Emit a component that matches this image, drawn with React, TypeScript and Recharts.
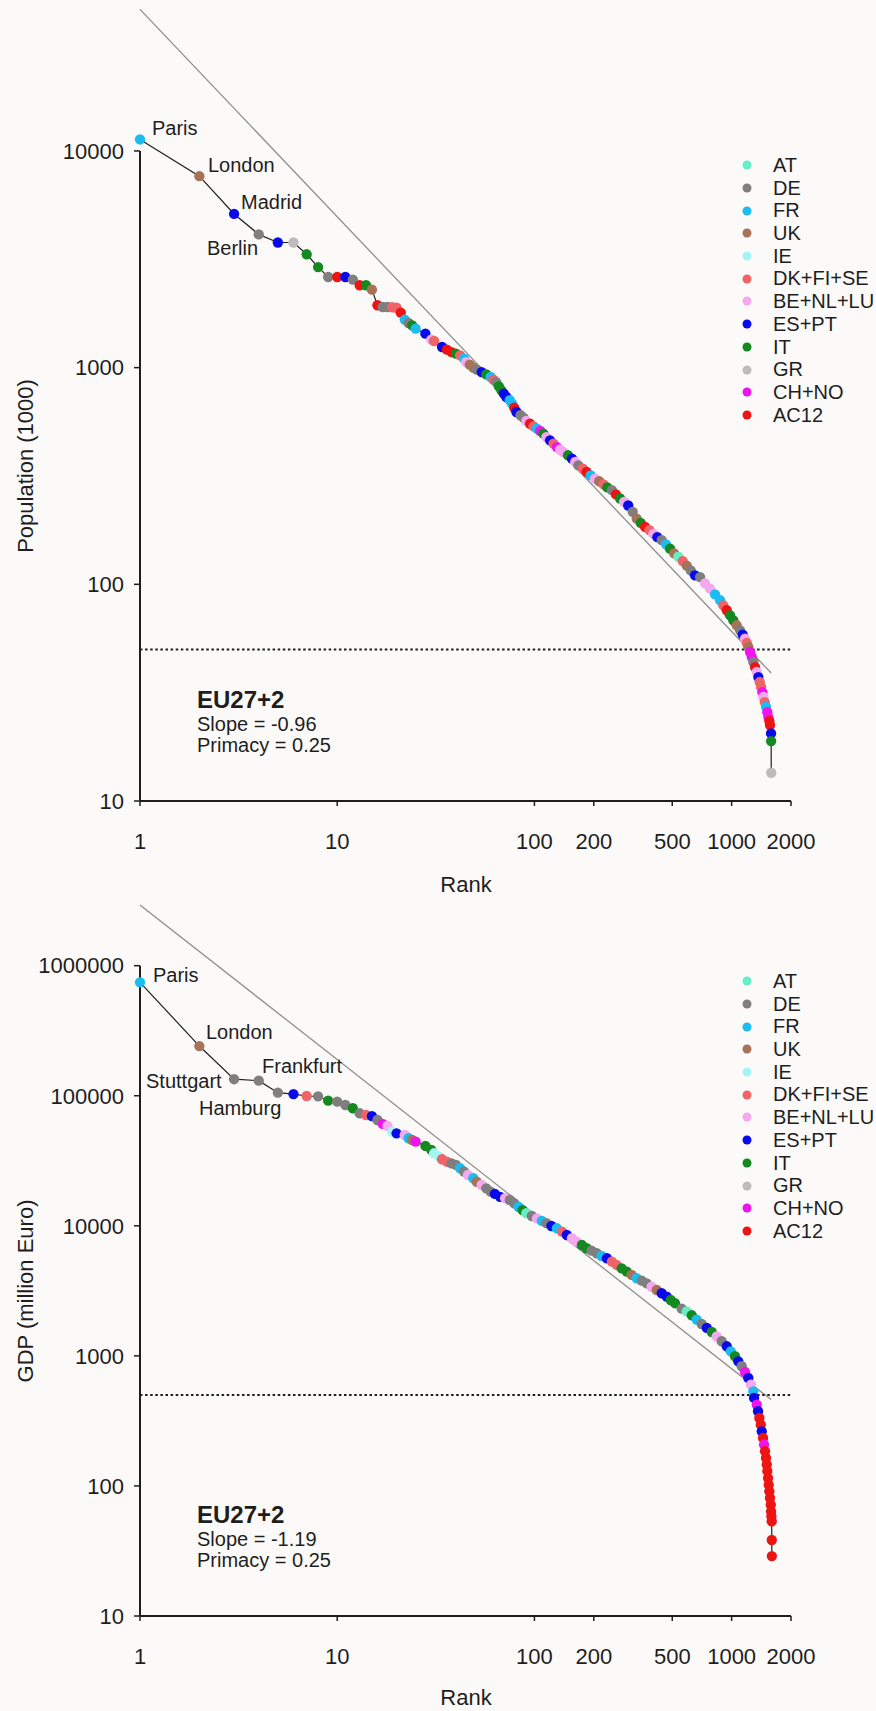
import React from "react";
import {
  ScatterChart,
  Scatter,
  XAxis,
  YAxis,
  ZAxis,
  ReferenceLine,
  Cell,
  Legend,
} from "recharts";

const FONT = "Arial, 'Liberation Sans', Helvetica, sans-serif";
const INK = "#1e1e1e";
const FIT_GREY = "#8e8e8e";
const PAGE_BG = "#fcfaf8";

// country groups, legend order
const GROUP_KEYS = ["AT", "DE", "FR", "UK", "IE", "DK", "BE", "ES", "IT", "GR", "CH", "AC"];
const GROUP_NAMES = ["AT", "DE", "FR", "UK", "IE", "DK+FI+SE", "BE+NL+LU", "ES+PT", "IT", "GR", "CH+NO", "AC12"];
const GROUP_COLORS = [
  "#66efc6", "#7f7f7f", "#1cbcf0", "#a87258", "#a4f4f4", "#ef6468",
  "#f4a8ee", "#0a0ae8", "#13891f", "#bcbcbc", "#ef14ee", "#ef1414",
];

const RANK_TICKS = [1, 10, 100, 200, 500, 1000, 2000];

// urban regions ranked by population (1000)
const POP_RANK = [
  1, 2, 3, 4, 5, 6, 7, 8, 9, 10,
  11, 12, 13, 14, 15, 16, 17, 18, 19, 20,
  21, 22, 23, 24, 25, 28, 30, 31, 34, 36,
  38, 40, 42, 44, 45, 47, 49, 51, 54, 57,
  60, 62, 64, 66, 68, 70, 72, 75, 77, 79,
  81, 85, 88, 91, 95, 99, 103, 107, 111, 115,
  120, 125, 130, 135, 140, 148, 155, 161, 167, 176,
  184, 193, 203, 213, 224, 234, 247, 259, 272, 285,
  299, 315, 330, 346, 364, 383, 401, 420, 442, 465,
  487, 511, 537, 565, 592, 620, 652, 692, 733, 777,
  824, 874, 908, 945, 982, 1020, 1061, 1103, 1138, 1169,
  1193, 1215, 1240, 1265, 1288, 1314, 1341, 1366, 1388, 1410,
  1431, 1448, 1472, 1494, 1517, 1535, 1553, 1565, 1584, 1586,
  1588,
];
const POP_VALUE = [
  11300, 7650, 5120, 4120, 3780, 3780, 3335, 2910, 2620, 2620,
  2620, 2550, 2400, 2400, 2290, 1940, 1905, 1905, 1900, 1890,
  1795, 1667, 1607, 1567, 1513, 1435, 1346, 1327, 1245, 1211,
  1180, 1160, 1140, 1100, 1061, 1032, 1000, 979, 954, 931,
  905, 880, 858, 820, 786, 759, 732, 707, 682, 654,
  624, 603, 588, 567, 551, 536, 523, 510, 496, 478,
  462, 446, 430, 418, 408, 394, 380, 367, 354, 342,
  330, 318, 307, 299, 289, 280, 272, 260, 249, 240,
  231, 216, 201, 192, 184, 178, 171, 165, 160, 153,
  146, 139, 134, 128, 122, 116, 110, 108, 101, 95.5,
  89.9, 84.4, 80, 75.9, 71.9, 68.2, 64.7, 61.3, 58.6, 56.2,
  53.6, 51.4, 48.7, 46.2, 43.8, 41.5, 39.4, 37.3, 35.4, 33.6,
  31.8, 30.2, 28.6, 27.2, 25.7, 24.4, 23.4, 22.4, 20.5, 18.9,
  13.5,
];
const POP_GROUP = [
  "FR", "UK", "ES", "DE", "ES", "GR", "IT", "IT", "DE", "AC",
  "ES", "DE", "AC", "IT", "UK", "AC", "DE", "DE", "DK", "DK",
  "AC", "FR", "DE", "IT", "FR", "ES", "BE", "DK", "ES", "AC",
  "AC", "IT", "DK", "FR", "BE", "UK", "UK", "DE", "ES", "IT",
  "FR", "DK", "DE", "IT", "IT", "ES", "ES", "FR", "FR", "AC",
  "ES", "DE", "DE", "BE", "AC", "DK", "FR", "CH", "IT", "BE",
  "ES", "DK", "CH", "BE", "BE", "IT", "ES", "BE", "DE", "DK",
  "AC", "FR", "BE", "UK", "DK", "IT", "DE", "AC", "IT", "BE",
  "ES", "DE", "UK", "IT", "AC", "DK", "BE", "ES", "DE", "FR",
  "IT", "UK", "AT", "DK", "UK", "DE", "ES", "DE", "BE", "BE",
  "FR", "FR", "DK", "AC", "IT", "IT", "UK", "DE", "ES", "BE",
  "DK", "UK", "CH", "CH", "DE", "AC", "BE", "ES", "DK", "DK",
  "CH", "BE", "DK", "FR", "CH", "CH", "AC", "AC", "ES", "IT",
  "GR",
];
const POP_TICKS = [10, 100, 1000, 10000];
const POP_FIT_RANK = [1, 1585];
const POP_FIT_VALUE = [45000, 39];
const POP_CUTOFF = 50;

// urban regions ranked by GDP (million Euro)
const GDP_RANK = [
  1, 2, 3, 4, 5, 6, 7, 8, 9, 10,
  11, 12, 13, 14, 15, 16, 17, 18, 19, 20,
  22, 23, 24, 25, 28, 30, 31, 33, 34, 36,
  38, 40, 42, 44, 46, 49, 51, 54, 57, 60,
  63, 67, 71, 75, 79, 83, 87, 91, 97, 103,
  109, 115, 122, 130, 138, 146, 155, 164, 174, 184,
  195, 207, 219, 233, 247, 261, 277, 294, 311, 330,
  350, 371, 393, 417, 442, 469, 491, 516, 558, 592,
  628, 665, 705, 748, 793, 840, 891, 945, 990, 1040,
  1081, 1125, 1169, 1215, 1254, 1288, 1299, 1341, 1361, 1382,
  1405, 1421, 1443, 1460, 1477, 1494, 1507, 1517, 1530, 1542,
  1553, 1565, 1579, 1584, 1591, 1597, 1598, 1599,
];
const GDP_VALUE = [
  745000, 241000, 134000, 130600, 105600, 103000, 99500, 99000, 91600, 90000,
  84900, 80100, 73300, 71100, 69800, 65100, 60700, 58600, 52900, 51400,
  49900, 47100, 45700, 44400, 41100, 38300, 36100, 34000, 32500, 31100,
  30200, 29400, 27700, 26100, 24600, 23200, 21800, 20600, 19400, 18300,
  17600, 16700, 16300, 15800, 14900, 14000, 13200, 12500, 11900, 11400,
  10900, 10500, 9970, 9570, 9010, 8500, 8020, 7550, 7120, 6720,
  6440, 6150, 5860, 5630, 5300, 5000, 4710, 4440, 4190, 3950,
  3790, 3610, 3400, 3210, 3030, 2850, 2690, 2540, 2306, 2200,
  2051, 1900, 1759, 1640, 1526, 1414, 1295, 1185, 1084, 993,
  908, 832, 752, 676, 600, 534, 475, 421, 375, 333,
  296, 263, 234, 208, 185, 164, 146, 130, 115, 102,
  90.9, 80.8, 71.8, 63.8, 58.4, 53.5, 38.4, 28.9,
];
const GDP_GROUP = [
  "FR", "UK", "DE", "DE", "DE", "ES", "DK", "DE", "IT", "DE",
  "DE", "IT", "DE", "DK", "ES", "DE", "CH", "BE", "IE", "ES",
  "BE", "FR", "UK", "CH", "IT", "IT", "IE", "IE", "DK", "DK",
  "DE", "DE", "FR", "DE", "BE", "FR", "UK", "BE", "DE", "DE",
  "ES", "ES", "BE", "DE", "DE", "FR", "IT", "AT", "DE", "BE",
  "FR", "DE", "ES", "FR", "DK", "ES", "BE", "BE", "IT", "IT",
  "DE", "DE", "FR", "ES", "DK", "DK", "IT", "IT", "UK", "FR",
  "DE", "DE", "BE", "UK", "ES", "ES", "IT", "IT", "DE", "AT",
  "IT", "FR", "DE", "ES", "IT", "BE", "DE", "ES", "FR", "IT",
  "ES", "DE", "CH", "ES", "BE", "FR", "ES", "CH", "ES", "AC",
  "AC", "ES", "AC", "CH", "AC", "AC", "AC", "AC", "AC", "AC",
  "AC", "AC", "AC", "AC", "AC", "AC", "AC", "AC",
];
const GDP_TICKS = [10, 100, 1000, 10000, 100000, 1000000];
const GDP_FIT_RANK = [1, 1585];
const GDP_FIT_VALUE = [2930000, 461];
const GDP_CUTOFF = 500;

type Point = { rank: number; value: number; group: string };

const toPoints = (ranks: number[], values: number[], groups: string[]): Point[] =>
  ranks.map((rank, i) => ({ rank, value: values[i], group: groups[i] }));

const colorOf = (group: string) => GROUP_COLORS[GROUP_KEYS.indexOf(group)] ?? "#7f7f7f";

function GroupLegend() {
  return (
    <div style={{ fontFamily: FONT, fontSize: 20, color: INK }}>
      {GROUP_KEYS.map((key, i) => (
        <div
          key={key}
          style={{ display: "flex", alignItems: "center", height: 22.7, whiteSpace: "nowrap" }}
        >
          <svg width={10} height={10} style={{ flexShrink: 0 }}>
            <circle cx={5} cy={5} r={4.5} fill={GROUP_COLORS[i]} />
          </svg>
          <span style={{ marginLeft: 21, lineHeight: "22.7px" }}>{GROUP_NAMES[i]}</span>
        </div>
      ))}
    </div>
  );
}

type PanelProps = {
  top: number;
  height: number;
  marginTop: number;
  axisHeight: number;
  points: Point[];
  yDomain: [number, number];
  yTicks: number[];
  fitRank: number[];
  fitValue: number[];
  cutoff: number;
  legendTop: number;
  children: React.ReactNode;
};

function RankSizePanel({
  top,
  height,
  marginTop,
  axisHeight,
  points,
  yDomain,
  yTicks,
  fitRank,
  fitValue,
  cutoff,
  legendTop,
  children,
}: PanelProps) {
  const tickStyle = { fontSize: 22, fill: INK, fontFamily: FONT };
  return (
    <div style={{ position: "absolute", left: 0, top, width: 876, height }}>
      <ScatterChart width={876} height={height} margin={{ top: marginTop, right: 85, bottom: 0, left: 0 }}>
        <XAxis
          type="number"
          dataKey="rank"
          scale="log"
          domain={[1, 2000]}
          ticks={RANK_TICKS}
          height={axisHeight}
          stroke={INK}
          axisLine={{ stroke: INK, strokeWidth: 2 }}
          tickLine={{ stroke: INK, strokeWidth: 1.5 }}
          tickSize={5}
          tickMargin={27}
          tick={tickStyle}
        />
        <YAxis
          type="number"
          dataKey="value"
          scale="log"
          domain={yDomain}
          ticks={yTicks}
          width={140}
          axisLine={false}
          stroke={INK}
          tickLine={{ stroke: INK, strokeWidth: 1.5 }}
          tickSize={6}
          tickMargin={10}
          tick={tickStyle}
          tickFormatter={(v: number) => String(v)}
        />
        {/* fixed marker size, about 10px across */}
        <ZAxis range={[84, 84]} />
        <ReferenceLine
          segment={[
            { x: 1, y: yTicks[0] },
            { x: 1, y: yTicks[yTicks.length - 1] },
          ]}
          stroke={INK}
          strokeWidth={2}
          ifOverflow="visible"
        />
        <ReferenceLine
          segment={[
            { x: fitRank[0], y: fitValue[0] },
            { x: fitRank[1], y: fitValue[1] },
          ]}
          stroke={FIT_GREY}
          strokeWidth={1.3}
          ifOverflow="visible"
        />
        <ReferenceLine y={cutoff} stroke={INK} strokeWidth={2} strokeDasharray="2.5 2.6" />
        <Scatter
          data={points}
          dataKey="value"
          shape="circle"
          line={{ stroke: INK, strokeWidth: 1.2 }}
          lineType="joint"
          isAnimationActive={false}
        >
          {points.map((p, i) => (
            <Cell key={i} fill={colorOf(p.group)} />
          ))}
        </Scatter>
        <Legend
          layout="vertical"
          align="center"
          verticalAlign="middle"
          wrapperStyle={{ left: 742, top: legendTop, width: 134 }}
          content={() => <GroupLegend />}
        />
      </ScatterChart>
      <svg
        width={876}
        height={height}
        style={{ position: "absolute", left: 0, top: 0, pointerEvents: "none" }}
        fontFamily={FONT}
        fill={INK}
      >
        {children}
      </svg>
    </div>
  );
}

export default function App() {
  const popPoints = toPoints(POP_RANK, POP_VALUE, POP_GROUP);
  const gdpPoints = toPoints(GDP_RANK, GDP_VALUE, GDP_GROUP);

  return (
    <div style={{ position: "absolute", left: 0, top: 0, width: 876, height: 1711, background: PAGE_BG }}>
      <RankSizePanel
        top={0}
        height={900}
        marginTop={9}
        axisHeight={99}
        points={popPoints}
        yDomain={[10, 45200]}
        yTicks={POP_TICKS}
        fitRank={POP_FIT_RANK}
        fitValue={POP_FIT_VALUE}
        cutoff={POP_CUTOFF}
        legendTop={154}
      >
        <text x={152} y={135} fontSize={20}>Paris</text>
        <text x={208} y={172} fontSize={20}>London</text>
        <text x={241} y={209} fontSize={20}>Madrid</text>
        <text x={207} y={255} fontSize={20}>Berlin</text>
        <text x={197} y={708} fontSize={24} fontWeight="bold">EU27+2</text>
        <text x={197} y={731} fontSize={20}>Slope = -0.96</text>
        <text x={197} y={752} fontSize={20}>Primacy = 0.25</text>
        <text x={33} y={466} fontSize={22} textAnchor="middle" transform="rotate(-90 33 466)">
          Population (1000)
        </text>
        <text x={466} y={892} fontSize={22} textAnchor="middle">Rank</text>
      </RankSizePanel>

      <RankSizePanel
        top={900}
        height={811}
        marginTop={4}
        axisHeight={95}
        points={gdpPoints}
        yDomain={[10, 2980000]}
        yTicks={GDP_TICKS}
        fitRank={GDP_FIT_RANK}
        fitValue={GDP_FIT_VALUE}
        cutoff={GDP_CUTOFF}
        legendTop={70}
      >
        <text x={153} y={82} fontSize={20}>Paris</text>
        <text x={206} y={139} fontSize={20}>London</text>
        <text x={262} y={173} fontSize={20}>Frankfurt</text>
        <text x={146} y={188} fontSize={20}>Stuttgart</text>
        <text x={199} y={215} fontSize={20}>Hamburg</text>
        <text x={197} y={623} fontSize={24} fontWeight="bold">EU27+2</text>
        <text x={197} y={646} fontSize={20}>Slope = -1.19</text>
        <text x={197} y={667} fontSize={20}>Primacy = 0.25</text>
        <text x={33} y={391} fontSize={22} textAnchor="middle" transform="rotate(-90 33 391)">
          GDP (million Euro)
        </text>
        <text x={466} y={805} fontSize={22} textAnchor="middle">Rank</text>
      </RankSizePanel>
    </div>
  );
}
